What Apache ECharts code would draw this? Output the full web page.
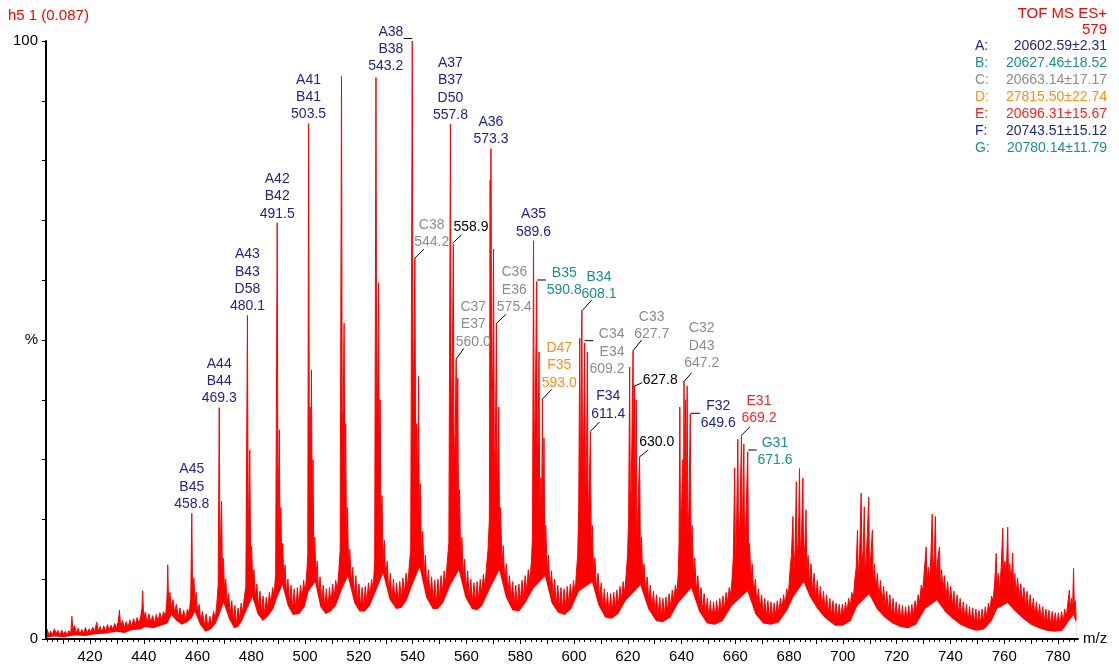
<!DOCTYPE html>
<html><head><meta charset="utf-8">
<script src="https://cdn.jsdelivr.net/npm/echarts@6/dist/echarts.min.js"></script>
<style>html,body{margin:0;padding:0;background:#fff}#c{width:1119px;height:666px}</style>
</head><body><div id="c"></div>
<script>
// ---------- DATA ----------
// spectrum trace: [m/z, intensity %]
const spectrum = [
[403.0,0.9],[403.5,1.6],[404.1,0.6],[404.8,1.3],[405.5,0.7],[406.2,1.7],[406.9,0.9],[407.6,1.4],[408.3,0.6],[409.0,1.5],[409.7,0.8],[410.4,1.3],[411.1,0.7],[411.8,1.4],[412.5,1.0],[412.9,3.8],[413.3,1.5],[413.9,2.3],[414.6,1.0],[415.3,1.8],[416.0,0.8],[416.7,1.6],[417.4,0.9],[418.1,1.9],[418.8,1.0],[419.5,1.7],[420.2,1.1],[420.9,2.0],[421.6,1.2],[422.4,2.8],[423.0,1.3],[423.7,2.1],[424.4,1.1],[425.1,2.2],[425.8,1.3],[426.5,2.4],[427.2,1.5],[427.9,2.3],[428.6,1.6],[429.3,2.6],[430.0,1.8],[430.7,3.0],[431.1,4.8],[431.6,2.0],[432.3,3.1],[433.0,1.8],[433.7,2.9],[434.4,1.9],[435.1,3.2],[435.8,2.0],[436.5,3.4],[437.2,2.3],[437.9,3.6],[438.6,2.5],[439.3,3.9],[439.7,5.0],[440.0,8.1],[440.4,3.4],[441.0,4.5],[441.7,2.7],[442.4,4.2],[443.1,2.8],[443.8,3.9],[444.5,2.6],[445.2,4.1],[445.9,2.9],[446.6,4.4],[447.3,3.1],[448.0,4.6],[448.7,3.6],[449.2,6.0],[449.4,8.0],[449.6,12.4],[449.9,6.4],[450.4,7.8],[451.0,5.2],[451.6,6.6],[452.2,4.4],[452.9,5.8],[453.6,3.6],[454.3,5.2],[455.0,3.4],[455.7,4.8],[456.4,3.2],[457.1,5.0],[457.8,4.2],[458.4,6.8],
[458.8,21.0],[459.1,8.0],[459.6,10.2],[460.0,6.0],[460.5,7.8],[461.0,4.4],[461.6,5.8],[462.2,3.0],[462.9,4.6],[463.6,2.2],[464.3,4.2],[465.0,1.8],[465.7,3.8],[466.4,2.4],[467.1,4.6],[467.8,3.4],[468.4,6.0],[468.9,9.0],
[469.3,38.7],[469.6,12.0],[469.9,18.0],[470.2,23.0],[470.5,11.0],[470.9,13.5],[471.3,8.5],[471.8,10.0],[472.3,6.0],[472.9,7.6],[473.5,4.2],[474.1,6.4],[474.7,3.0],[475.3,5.6],[475.9,2.4],[476.5,5.2],[477.1,3.4],[477.7,6.0],[478.3,4.4],[478.9,7.0],[479.5,8.8],
[480.1,54.1],[480.4,16.0],[481.0,31.6],[481.3,13.0],[481.7,15.5],[482.1,9.5],[482.6,11.6],[483.1,7.0],[483.7,9.2],[484.3,5.4],[484.9,8.0],[485.5,4.2],[486.1,7.2],[486.7,3.8],[487.3,7.0],[487.9,5.0],[488.5,7.8],[489.1,5.8],[489.7,8.6],[490.3,7.2],[490.9,11.0],
[491.5,69.6],[491.8,18.0],[492.3,35.0],[492.6,15.0],[492.9,22.0],[493.2,13.0],[493.6,16.0],[494.0,10.0],[494.5,12.4],[495.0,7.6],[495.6,10.0],[496.2,6.0],[496.8,9.0],[497.4,5.0],[498.0,8.4],[498.6,4.6],[499.2,8.6],[499.8,5.6],[500.4,9.0],[501.0,6.6],[501.6,9.8],[502.2,7.6],[502.8,11.0],[503.2,14.0],
[503.5,86.2],[503.8,30.0],[504.1,38.8],[504.4,22.0],[504.6,45.0],[504.9,18.0],[505.2,30.0],[505.5,14.0],[505.9,17.0],[506.3,10.0],[506.8,13.0],[507.3,7.6],[507.9,10.4],[508.5,6.0],[509.1,9.0],[509.7,5.0],[510.3,8.4],[510.9,4.8],[511.5,8.6],[512.1,5.8],[512.7,9.2],[513.3,6.8],[513.9,9.8],[514.5,8.0],[515.1,11.5],[515.6,15.0],
[516.1,94.1],[516.4,32.0],[516.8,40.0],[517.1,52.8],[517.4,24.0],[517.7,36.0],[518.0,17.0],[518.4,22.0],[518.8,12.0],[519.3,15.0],[519.8,9.4],[520.4,12.0],[521.0,7.2],[521.6,10.6],[522.2,6.0],[522.8,9.2],[523.4,5.2],[524.0,8.6],[524.6,5.0],[525.2,8.8],[525.8,6.0],[526.4,9.4],[527.0,7.0],[527.6,10.0],[528.2,8.2],[528.8,13.0],
[529.3,93.9],[529.6,34.0],[530.0,44.0],[530.3,59.6],[530.6,27.0],[530.9,40.0],[531.2,19.0],[531.6,24.0],[532.0,13.0],[532.5,16.5],[533.0,10.0],[533.6,13.0],[534.2,7.6],[534.8,11.0],[535.4,6.4],[536.0,10.0],[536.6,5.6],[537.2,9.4],[537.8,5.8],[538.4,9.6],[539.0,6.6],[539.6,10.2],[540.2,7.4],[540.8,11.0],[541.4,8.6],[542.0,12.0],[542.6,15.0],
[543.2,100],[543.5,38.0],[543.9,50.0],[544.2,63.7],[544.5,28.0],[544.9,36.0],[545.2,22.0],[545.6,43.9],[545.9,20.0],[546.3,26.0],[546.7,14.0],[547.2,18.0],[547.7,10.4],[548.2,14.0],[548.8,8.0],[549.4,11.6],[550.0,6.8],[550.6,10.4],[551.2,6.0],[551.8,9.8],[552.4,5.8],[553.0,10.0],[553.6,6.8],[554.2,10.6],[554.8,7.8],[555.4,11.4],[556.0,9.0],[556.6,13.0],[557.2,16.0],
[557.8,86.1],[558.1,36.0],[558.5,44.0],[558.9,66.0],[559.2,28.0],[559.6,34.0],[560.0,46.8],[560.3,24.0],[560.6,43.6],[560.9,19.0],[561.3,25.0],[561.7,13.0],[562.2,17.0],[562.7,10.0],[563.2,13.4],[563.8,8.0],[564.4,11.4],[565.0,6.8],[565.6,10.0],[566.2,6.0],[566.8,9.4],[567.4,5.8],[568.0,9.6],[568.6,6.4],[569.2,10.0],[569.8,7.4],[570.4,10.8],[571.0,8.6],[571.6,12.0],[572.2,15.0],[572.7,20.0],
[573.0,76.8],[573.15,30.0],[573.3,82.0],[573.6,34.0],[574.0,45.0],[574.3,65.2],[574.6,27.0],[575.0,33.0],[575.4,52.8],[575.7,22.0],[576.0,30.0],[576.3,38.8],[576.6,17.0],[577.0,22.0],[577.5,12.0],[578.0,15.6],[578.6,9.4],[579.2,12.6],[579.8,7.6],[580.4,10.6],[581.0,6.4],[581.6,9.6],[582.2,5.6],[582.8,9.0],[583.4,5.4],[584.0,9.2],[584.6,6.2],[585.2,9.8],[585.8,7.0],[586.4,10.6],[587.0,8.0],[587.6,11.6],[588.2,9.6],[588.8,13.0],[589.2,17.0],
[589.6,66.6],[589.9,28.0],[590.3,40.0],[590.8,59.8],[591.1,26.0],[591.4,35.0],[591.7,48.0],[592.0,21.0],[592.4,27.0],[592.7,18.0],[593.0,40.1],[593.3,19.0],[593.6,33.6],[593.9,15.0],[594.3,19.0],[594.8,11.0],[595.3,14.0],[595.9,8.4],[596.5,11.4],[597.1,6.6],[597.7,10.0],[598.3,5.6],[598.9,9.0],[599.5,5.0],[600.1,8.6],[600.7,4.8],[601.3,8.4],[601.9,5.2],[602.5,8.8],[603.1,5.8],[603.7,9.2],[604.3,6.6],[604.9,9.8],[605.5,7.6],[606.0,11.0],[606.5,14.0],[606.9,22.0],
[607.3,50.3],[607.6,22.0],[608.1,55.0],[608.4,26.0],[608.8,34.0],[609.2,49.5],[609.5,21.0],[609.9,30.0],[610.2,48.0],[610.5,20.0],[610.9,25.0],[611.4,34.8],[611.7,15.0],[612.1,19.0],[612.6,10.6],[613.1,13.6],[613.7,8.0],[614.3,11.0],[614.9,6.4],[615.5,9.4],[616.1,5.0],[616.7,8.4],[617.3,4.4],[617.9,7.8],[618.5,4.0],[619.1,7.6],[619.7,4.4],[620.3,7.8],[620.9,4.8],[621.5,8.2],[622.1,5.6],[622.7,8.8],[623.3,6.4],[623.9,9.6],[624.5,7.6],[625.1,11.0],[625.6,14.0],[626.0,20.0],
[626.4,45.5],[626.7,19.0],[627.1,28.0],[627.7,48.2],[628.0,21.0],[628.3,42.2],[628.6,19.0],[628.9,40.0],[629.2,17.0],[629.6,22.0],[630.2,30.5],[630.5,14.0],[630.9,17.0],[631.4,10.0],[631.9,12.6],[632.5,7.8],[633.1,10.4],[633.7,6.2],[634.3,9.0],[634.9,5.0],[635.5,8.0],[636.1,4.4],[636.7,7.4],[637.3,3.8],[637.9,7.0],[638.5,3.6],[639.1,6.8],[639.7,4.0],[640.3,7.0],[640.9,4.6],[641.5,7.6],[642.1,5.2],[642.7,8.2],[643.3,6.2],[643.9,9.0],[644.5,7.6],[645.0,11.0],[645.3,16.0],
[645.6,38.8],[645.9,15.0],[646.3,22.0],[646.7,30.0],[647.0,18.0],[647.2,43.1],[647.5,19.0],[647.8,40.0],[648.1,18.0],[648.4,42.3],[648.7,17.0],[649.1,22.0],[649.6,37.7],[649.9,15.0],[650.3,19.0],[650.8,10.6],[651.3,13.6],[651.9,8.0],[652.5,10.6],[653.1,6.0],[653.7,8.6],[654.3,4.6],[654.9,7.6],[655.5,3.8],[656.1,6.8],[656.7,3.4],[657.3,6.4],[657.9,3.2],[658.5,6.2],[659.1,3.4],[659.7,6.4],[660.3,3.8],[660.9,6.8],[661.5,4.4],[662.1,7.2],[662.7,5.0],[663.3,7.8],[663.9,6.0],[664.5,8.6],[665.1,7.4],[665.6,10.0],[666.1,14.0],
[666.6,28.6],[666.9,12.0],[667.3,18.0],[667.8,33.4],[668.1,14.0],[668.6,20.0],[669.2,34.1],[669.5,15.0],[670.1,32.6],[670.4,14.0],[670.9,20.0],[671.6,31.3],[671.9,13.0],[672.3,16.0],[672.8,9.6],[673.3,12.6],[673.9,7.4],[674.5,10.0],[675.1,5.8],[675.7,8.4],[676.3,4.8],[676.9,7.4],[677.5,4.0],[678.1,6.8],[678.7,3.6],[679.3,6.4],[679.9,3.4],[680.5,6.2],[681.1,3.6],[681.7,6.0],[682.3,3.8],[682.9,6.4],[683.5,4.2],[684.1,6.8],[684.7,4.8],[685.3,7.4],[685.9,5.6],[686.5,8.4],[687.1,7.0],[687.7,11.0],[688.3,14.0],
[688.9,20.5],[689.2,11.0],[689.7,15.0],[690.2,26.3],[690.5,13.0],[691.0,17.0],[691.4,28.5],[691.7,14.0],[692.2,18.0],[692.7,26.9],[693.0,13.0],[693.5,16.0],[693.9,21.6],[694.2,11.0],[694.7,14.0],[695.2,9.0],[695.8,12.6],[696.4,7.6],[697.0,11.0],[697.6,6.6],[698.2,9.8],[698.8,5.8],[699.4,8.8],[700.0,5.2],[700.6,8.0],[701.2,4.6],[701.8,7.4],[702.4,4.2],[703.0,6.8],[703.6,3.8],[704.2,6.4],[704.8,3.6],[705.4,6.0],[706.0,3.4],[706.6,5.8],[707.2,3.4],[707.8,5.8],[708.4,3.8],[709.0,6.2],[709.6,4.4],[710.2,6.8],[710.8,5.2],[711.4,7.8],[712.0,6.6],[712.6,10.0],[713.1,12.0],
[713.6,18.2],[713.9,10.0],[714.4,14.0],[715.0,24.4],[715.3,12.0],[715.8,15.0],[716.2,22.1],[716.5,11.0],[717.0,14.0],[717.4,18.0],[717.9,23.7],[718.2,11.0],[718.7,14.0],[719.3,18.2],[719.6,9.0],[720.1,12.6],[720.6,8.0],[721.2,11.0],[721.8,6.8],[722.4,9.8],[723.0,6.0],[723.6,8.8],[724.2,5.2],[724.8,8.0],[725.4,4.6],[726.0,7.4],[726.6,4.0],[727.2,6.8],[727.8,3.6],[728.4,6.2],[729.0,3.2],[729.6,5.8],[730.2,3.0],[730.8,5.6],[731.4,2.8],[732.0,5.4],[732.6,3.0],[733.2,5.6],[733.8,3.2],[734.4,5.8],[735.0,3.8],[735.6,6.4],[736.2,4.8],[736.8,7.4],[737.4,6.0],[738.0,9.0],[738.6,8.0],[739.2,11.5],
[739.9,15.4],[740.2,9.0],[740.7,12.0],[741.2,9.6],[741.7,14.0],[742.2,20.9],[742.5,11.0],[743.0,14.0],[743.4,20.5],[743.7,10.5],[744.2,13.0],[745.0,15.4],[745.3,8.6],[745.8,11.6],[746.3,8.0],[746.9,10.6],[747.5,6.8],[748.1,9.6],[748.7,6.0],[749.3,8.8],[749.9,5.4],[750.5,8.0],[751.1,4.8],[751.7,7.4],[752.3,4.2],[752.9,6.8],[753.5,3.6],[754.1,6.2],[754.7,3.2],[755.3,5.8],[755.9,2.8],[756.5,5.4],[757.1,2.6],[757.7,5.2],[758.3,2.4],[758.9,5.0],[759.5,2.4],[760.1,4.8],[760.7,2.6],[761.3,5.0],[761.9,2.8],[762.5,5.4],[763.1,3.4],[763.7,6.0],[764.3,4.6],[764.9,7.2],[765.5,6.4],[766.1,9.4],
[766.7,14.3],[767.0,8.4],[767.5,11.0],[768.0,8.0],[768.6,12.0],[769.2,18.5],[769.5,10.0],[770.0,13.0],[770.5,10.2],[771.1,18.7],[771.4,10.0],[771.9,12.6],[772.4,9.0],[773.0,14.4],[773.3,8.2],[773.8,11.0],[774.3,7.6],[774.9,10.2],[775.5,6.6],[776.1,9.2],[776.7,6.0],[777.3,8.6],[777.9,5.4],[778.5,8.0],[779.1,4.8],[779.7,7.4],[780.3,4.2],[780.9,6.8],[781.5,3.8],[782.1,6.2],[782.7,3.4],[783.3,5.8],[783.9,3.0],[784.5,5.4],[785.1,2.8],[785.7,5.0],[786.3,2.6],[786.9,4.8],[787.5,2.4],[788.1,4.6],[788.7,2.4],[789.3,4.4],[789.9,2.2],[790.5,4.4],[791.1,2.2],[791.7,4.6],[792.3,2.8],[792.9,5.0],[793.5,3.6],[794.1,6.0],
[794.7,8.2],[795.0,5.0],[795.5,6.8],[795.9,4.6],[796.3,11.8],[796.6,5.4],[797.0,6.4],[797.3,3.2]
];

// lower edge of the dense noise band: [m/z, intensity %]
const noiseFloor = [
[403.0,0.2],[406,0.4],[410,0.3],[412.5,0.5],[414,0.6],[418,0.5],[422,0.8],[426,0.9],[430,1.2],[433,1.0],[436,1.5],[439,1.6],[441,2.0],[444,1.8],[447,2.2],[449.5,2.6],[451,4.0],[453,3.0],[455,2.4],[457,2.8],[458.8,3.5],[460,4.5],[462,2.4],[464,1.2],[466,1.6],[468,2.6],[469.3,4.0],[471,6.0],[473,3.4],[475,1.8],[476.5,2.0],[478,3.0],[480,5.0],[482,7.0],[484,4.2],[486,3.0],[488,3.8],[490,5.0],[491.5,7.0],[493.5,9.0],[495.5,5.6],[497.5,4.0],[500,4.2],[502,5.4],[503.5,8.0],[506,9.5],[508,5.4],[510,4.2],[512,4.6],[514,5.6],[516,8.0],[518.5,10.5],[521,6.0],[523,4.6],[525,4.6],[527,5.6],[529.3,8.0],[532,11.0],[534.5,6.6],[537,5.0],[539,5.2],[541,6.4],[543.2,9.0],[546,12.0],[548.5,7.0],[551,5.0],[553,5.0],[555,6.0],[557.8,9.0],[561,11.5],[563.5,7.0],[566,5.0],[568,4.8],[570,5.6],[573,8.5],[576.5,11.5],[579,7.0],[581.5,4.8],[584,4.6],[586.5,6.0],[589.6,8.5],[594,10.5],[596.5,6.0],[599,4.4],[601.5,4.0],[604,5.0],[607,8.0],[612,9.5],[614.5,5.6],[617,3.6],[619.5,3.4],[622,4.2],[625,6.5],[630.5,9.0],[633.5,5.0],[636.5,3.0],[639,2.8],[642,3.6],[645,6.0],[650,8.5],[653,4.6],[656,2.6],[659,2.4],[662,3.0],[665.5,5.5],[671.5,8.0],[674.5,4.2],[677.5,2.6],[680.5,2.4],[683.5,2.8],[687,5.0],[689,7.0],[693,9.5],[695.5,7.0],[698,5.2],[701,3.6],[705,2.2],[708,2.2],[711,3.0],[713.5,5.5],[718,7.5],[721,5.0],[724,3.6],[727,2.6],[730,2.0],[733,1.8],[736,2.4],[739.5,5.0],[744,6.5],[747,4.6],[750,3.4],[753,2.4],[756,1.8],[759,1.4],[762,1.6],[765,3.0],[767,5.0],[771,6.0],[774,4.6],[777,3.4],[780,2.4],[783,1.8],[786,1.4],[789,1.2],[792,1.4],[794.5,3.0],[796.3,4.0],[797.3,2.6]
];

// peak annotations: [m/z, intensity %, text, component]
const peakLabels = [
 [458.8, 21.0, 'A45\nB45\n458.8', 'A'],
 [469.3, 38.7, 'A44\nB44\n469.3', 'A'],
 [480.1, 54.1, 'A43\nB43\nD58\n480.1', 'A'],
 [491.5, 69.6, 'A42\nB42\n491.5', 'A'],
 [503.5, 86.2, 'A41\nB41\n503.5', 'A'],
 [543.2, 100, 'A38\nB38\n543.2', 'A'],
 [557.8, 86.1, 'A37\nB37\nD50\n557.8', 'A'],
 [573.3, 82.0, 'A36\n573.3', 'A'],
 [589.6, 66.6, 'A35\n589.6', 'A'],
 [544.2, 63.7, 'C38\n544.2', 'C'],
 [558.9, 66.0, '558.9', '-'],
 [560.0, 46.8, 'C37\nE37\n560.0', 'C'],
 [575.4, 52.8, 'C36\nE36\n575.4', 'C'],
 [590.8, 59.8, 'B35\n590.8', 'B'],
 [608.1, 55.0, 'B34\n608.1', 'B'],
 [593.0, 40.1, 'D47\nF35\n593.0', 'D'],
 [609.2, 49.5, 'C34\nE34\n609.2', 'C'],
 [611.4, 34.8, 'F34\n611.4', 'F'],
 [627.7, 48.2, 'C33\n627.7', 'C'],
 [627.8, 42.2, '627.8', '-'],
 [630.0, 30.5, '630.0', '-'],
 [647.2, 43.1, 'C32\nD43\n647.2', 'C'],
 [649.6, 37.7, 'F32\n649.6', 'F'],
 [669.2, 34.1, 'E31\n669.2', 'E'],
 [671.6, 31.3, 'G31\n671.6', 'G']
];

// printed m/z axis (its scale as drawn in the picture)
const xTickLabels = [420,440,460,480,500,520,540,560,580,600,620,640,660,680,700,720,740,760,780];
const printedAxisRange = [403.64, 787.44];
const dataAxisRange = [403.0, 798.0];
const yTickLabels = {0:'0', 50:'%', 100:'100'};
const titleLeft = 'h5 1 (0.087)';
const titleRight = ['TOF MS ES+', '579'];
const legendKeys = ['A:','B:','C:','D:','E:','F:','G:'];
const legendValues = ['20602.59±2.31','20627.46±18.52','20663.14±17.17','27815.50±22.74','20696.31±15.67','20743.51±15.12','20780.14±11.79'];

// ---------- STYLE ----------
const compColor = {A:'#23238c', B:'#1b8f8c', C:'#8c8c8c', D:'#ff8c1a', E:'#ff1f1f', F:'#23238c', G:'#1b8f8c', '-':'#000000'};
const FONT = '"Liberation Sans", Arial, sans-serif';
const LH = 17.4;
const placement = [
 'top','top','top','top','top',
 {lead:[-8.5,-2.5,0,-2.5], dx:-9, dy:-9.3, align:'right'},
 'top','top','top',
 {lead:[0,0,9,-9], dx:16.8, dy:-33.2},
 {lead:[0,-1.6,8,-9.5], dx:17.7, dy:-17.6},
 {lead:[0,0,7.6,-10.7], dx:17.1, dy:-52.2},
 {lead:[0,0,9.6,-9], dx:17.9, dy:-50.8},
 {lead:[0.6,-1.4,9.3,-1.4], dx:27.6, dy:-8.7},
 {lead:[0.8,0,9.8,-10], dx:17.1, dy:-33.2},
 {lead:[0,0,9.3,-9.9], dx:16.9, dy:-51.3},
 {lead:[0,-2.3,8.6,-2.3], dx:39.8, dy:-8.7, align:'right'},
 {lead:[0.5,0,9,-9], dx:17.8, dy:-34.3},
 {lead:[0,0,8.6,-10.8], dx:18.6, dy:-33.9},
 {lead:[0,0,9,-4], dx:26.9, dy:-6.6},
 {lead:[0.9,0,9.2,-6.6], dx:17.6, dy:-14.9},
 {lead:[0.3,0,7.7,-8.6], dx:17.7, dy:-52.8},
 {lead:[0.7,-0.3,9.7,-0.3], dx:28, dy:-7.6},
 {lead:[0.2,0,8.5,-8.4], dx:17.5, dy:-34.2},
 {lead:[0.5,-1.8,8.9,-1.8], dx:27.2, dy:-9.1}
];

const minorTicks = []; for (let v = 404; v <= 786; v += 2) minorTicks.push(v);
const majorTicks = []; for (let v = 410; v <= 780; v += 10) majorTicks.push(v);

const chart = echarts.init(document.getElementById('c'), null, {renderer:'canvas'});

const graphics = [
 {type:'text', left:8, top:8, style:{text:titleLeft, fill:'#ff0000', font:'15px '+FONT}},
 {type:'text', right:12, top:6, style:{text:titleRight[0], fill:'#ff0000', font:'15px '+FONT}},
 {type:'text', right:12, top:22, style:{text:titleRight[1], fill:'#ff0000', font:'15px '+FONT}}
];
legendKeys.forEach((k, i) => {
  const col = compColor[k[0]];
  graphics.push({type:'text', x:975, y:46 + i*17, style:{text:k, fill:col, font:'14px '+FONT, align:'left', verticalAlign:'middle'}});
  graphics.push({type:'text', x:1107, y:46 + i*17, style:{text:legendValues[i], fill:col, font:'14px '+FONT, align:'right', verticalAlign:'middle'}});
});

chart.setOption({
  animation:false,
  textStyle:{fontFamily:FONT},
  grid:{left:46, right:41, top:41, bottom:27, containLabel:false},
  xAxis:[
    {type:'value', min:dataAxisRange[0], max:dataAxisRange[1], show:false},
    {type:'value', min:printedAxisRange[0], max:printedAxisRange[1], position:'bottom', z:10,
     axisLine:{onZero:false, lineStyle:{color:'#000', width:2}},
     axisTick:{customValues:minorTicks, length:3, lineStyle:{color:'#000', width:1}},
     axisLabel:{show:false}, splitLine:{show:false},
     name:'m/z', nameLocation:'end', nameGap:5,
     nameTextStyle:{color:'#000', fontSize:15, verticalAlign:'middle', align:'left'}},
    {type:'value', min:printedAxisRange[0], max:printedAxisRange[1], position:'bottom', z:10,
     axisLine:{show:false, onZero:false},
     axisTick:{customValues:majorTicks, length:5, lineStyle:{color:'#000', width:1}},
     axisLabel:{customValues:xTickLabels, color:'#000', fontSize:15, margin:10},
     splitLine:{show:false}}
  ],
  yAxis:{type:'value', min:0, max:100, interval:10, z:10,
     axisLine:{show:true, lineStyle:{color:'#000', width:2}},
     axisTick:{show:true, length:4, lineStyle:{color:'#000'}},
     axisLabel:{color:'#000', fontSize:15, margin:8, formatter:v => (yTickLabels[v] !== undefined ? yTickLabels[v] : '')},
     splitLine:{show:false}},
  graphic:graphics,
  series:[
    {type:'line', xAxisIndex:0, data:spectrum, showSymbol:false, symbol:'none', sampling:null,
     lineStyle:{width:0, opacity:0}, areaStyle:{color:'#ff0000', opacity:1}, z:1, silent:true},
    {type:'line', xAxisIndex:0, data:noiseFloor, showSymbol:false, symbol:'none',
     lineStyle:{width:0, opacity:0}, areaStyle:{color:'#ffffff', opacity:1}, z:2, silent:true},
    {type:'line', xAxisIndex:0, data:spectrum, showSymbol:false, symbol:'none', sampling:null,
     lineStyle:{color:'#ff0000', width:1}, z:3},
    {type:'custom', xAxisIndex:0, data:peakLabels.map(d => [d[0], d[1]]), clip:false, z:5,
     renderItem:(params, api) => {
       const i = params.dataIndex;
       const p = api.coord([api.value(0), api.value(1)]);
       const lab = peakLabels[i];
       const col = compColor[lab[3]];
       const nLines = lab[2].split('\n').length;
       let pl = placement[i];
       if (pl === 'top') pl = {lead:null, dx:0, dy:-9 - (nLines-1)*LH, align:'center'};
       const children = [];
       if (pl.lead) {
         children.push({type:'line', shape:{x1:p[0]+pl.lead[0], y1:p[1]+pl.lead[1], x2:p[0]+pl.lead[2], y2:p[1]+pl.lead[3]},
           style:{stroke:'#000', lineWidth:1}});
       }
       children.push({type:'text', x:p[0]+pl.dx, y:p[1]+pl.dy - LH/2,
         style:{text:lab[2], fill:col, font:'14px '+FONT, align:pl.align || 'center', verticalAlign:'top', lineHeight:LH}});
       return {type:'group', children};
     }}
  ]
});
</script></body></html>
